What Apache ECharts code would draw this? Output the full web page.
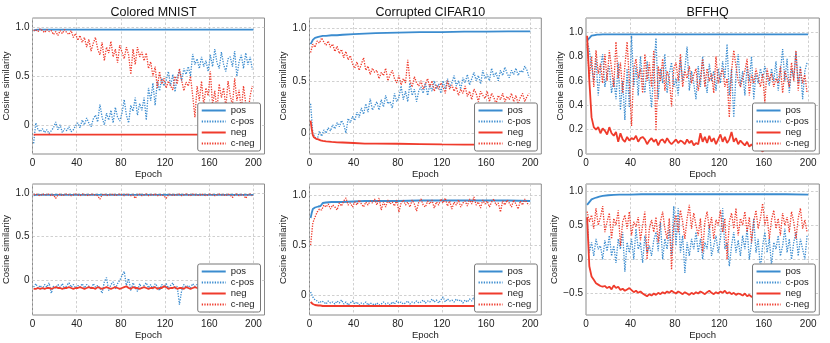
<!DOCTYPE html>
<html><head><meta charset="utf-8">
<script src="https://cdn.jsdelivr.net/npm/echarts@6/dist/echarts.min.js"></script>
<style>html,body{margin:0;padding:0;background:#fff}#c{width:830px;height:343px}</style>
</head><body><div id="c"></div><script>
// ---------- categories / x values ----------
const EPOCHS = []; for (let e = 1; e <= 199; e += 2) EPOCHS.push(e);   // noisy series: every 2nd epoch
const SMOOTH_EPOCHS = [1,2,3,4,5,6,8,10,12,15,20,25,30,40,50,60,80,100,120,140,160,180,200];
const X_TICKS = [0, 40, 80, 120, 160, 200];
const LEGEND_NAMES = ['pos', 'c-pos', 'neg', 'c-neg'];
const TITLES = ['Colored MNIST', 'Corrupted CIFAR10', 'BFFHQ'];

// ---------- Colored MNIST (top) ----------
const mnistTopPos = [0.97,0.975,0.978,0.98,0.98,0.98,0.98,0.98,0.98,0.98,0.98,0.98,0.98,0.98,0.98,0.98,0.98,0.98,0.98,0.98,0.98,0.98,0.98];
const mnistTopNeg = [-0.1,-0.1,-0.1,-0.1,-0.1,-0.1,-0.1,-0.1,-0.1,-0.1,-0.1,-0.1,-0.1,-0.1,-0.1,-0.1,-0.1,-0.1,-0.1,-0.1,-0.1,-0.1,-0.1];
const mnistTopCPos = [
 -0.19,0.02,-0.05,-0.07,-0.04,-0.08,-0.05,-0.09,-0.06,-0.03,
 0.03,-0.05,0.0,-0.08,-0.04,-0.06,-0.02,-0.07,-0.05,-0.01,
 0.02,-0.03,0.05,0.0,0.07,0.02,-0.02,0.06,0.1,0.03,
 0.21,0.08,0.0,0.12,0.05,0.15,0.02,0.18,0.08,0.04,
 0.12,0.26,0.1,0.02,0.2,0.14,0.28,0.1,0.22,0.15,
 0.28,0.05,0.38,0.25,0.43,0.2,0.45,0.35,0.48,0.4,
 0.46,0.55,0.4,0.52,0.34,0.5,0.56,0.45,0.58,0.52,
 0.6,0.5,0.73,0.62,0.68,0.58,0.7,0.6,0.66,0.55,
 0.72,0.6,0.78,0.64,0.58,0.75,0.62,0.55,0.68,0.7,
 0.6,0.76,0.5,0.65,0.72,0.58,0.74,0.62,0.7,0.57];
const mnistTopCNeg = [
 0.97,0.98,0.96,0.99,0.97,0.95,0.98,0.96,0.97,0.93,
 0.96,0.92,0.97,0.94,0.98,0.95,0.93,0.97,0.9,0.94,
 0.87,0.92,0.85,0.9,0.8,0.88,0.76,0.84,0.9,0.78,
 0.72,0.85,0.66,0.8,0.74,0.86,0.7,0.78,0.64,0.82,
 0.75,0.68,0.8,0.72,0.52,0.78,0.62,0.8,0.7,0.75,
 0.66,0.74,0.58,0.65,0.5,0.6,0.38,0.55,0.42,0.48,
 0.38,0.45,0.4,0.36,0.5,0.42,0.58,0.46,0.35,0.44,
 0.4,0.5,0.3,0.08,0.4,0.25,0.45,0.2,0.38,0.3,
 0.55,0.2,0.35,0.15,0.42,0.28,0.38,0.18,0.45,0.3,
 0.2,0.48,0.25,0.36,0.15,0.4,0.22,0.1,0.3,0.4];

// ---------- Corrupted CIFAR10 (top) ----------
const cifarTopPos = [0.85,0.87,0.89,0.9,0.91,0.915,0.92,0.925,0.93,0.93,0.935,0.935,0.94,0.945,0.95,0.955,0.96,0.965,0.965,0.97,0.97,0.972,0.972];
const cifarTopNeg = [0.12,0.04,-0.02,-0.04,-0.05,-0.055,-0.06,-0.07,-0.075,-0.08,-0.085,-0.088,-0.09,-0.095,-0.1,-0.1,-0.102,-0.105,-0.108,-0.11,-0.11,-0.11,-0.11];
const cifarTopCPos = [
 0.28,0.0,-0.04,-0.06,0.02,-0.03,0.03,0.0,0.05,0.02,
 0.08,0.04,0.1,0.06,0.12,0.08,0.0,0.14,0.1,0.16,
 0.12,0.2,0.15,0.24,0.18,0.28,0.2,0.33,0.22,0.26,
 0.3,0.22,0.32,0.25,0.36,0.28,0.3,0.24,0.38,0.3,
 0.34,0.45,0.32,0.4,0.3,0.48,0.36,0.42,0.3,0.4,
 0.44,0.38,0.48,0.36,0.46,0.4,0.5,0.42,0.47,0.38,
 0.5,0.42,0.52,0.44,0.48,0.55,0.45,0.5,0.42,0.53,
 0.48,0.56,0.46,0.52,0.58,0.5,0.55,0.47,0.6,0.52,
 0.56,0.5,0.62,0.54,0.58,0.5,0.6,0.55,0.63,0.57,
 0.53,0.6,0.56,0.62,0.55,0.6,0.58,0.64,0.6,0.53];
const cifarTopCNeg = [
 0.77,0.85,0.82,0.88,0.86,0.91,0.87,0.84,0.88,0.82,
 0.85,0.78,0.83,0.76,0.8,0.72,0.78,0.7,0.74,0.66,
 0.62,0.68,0.6,0.66,0.72,0.6,0.64,0.56,0.62,0.58,
 0.6,0.52,0.58,0.55,0.62,0.5,0.56,0.6,0.52,0.48,
 0.55,0.46,0.52,0.48,0.7,0.5,0.44,0.54,0.48,0.45,
 0.5,0.42,0.47,0.52,0.44,0.5,0.4,0.46,0.42,0.48,
 0.44,0.38,0.5,0.42,0.46,0.4,0.44,0.36,0.42,0.38,
 0.45,0.35,0.4,0.32,0.42,0.38,0.3,0.4,0.36,0.33,
 0.4,0.3,0.38,0.34,0.28,0.36,0.32,0.38,0.3,0.35,
 0.32,0.38,0.3,0.36,0.28,0.34,0.38,0.3,0.35,0.38];

// ---------- BFFHQ (top) ----------
const bffhqTopPos = [0.93,0.94,0.95,0.96,0.97,0.975,0.975,0.978,0.978,0.98,0.98,0.98,0.98,0.98,0.98,0.98,0.98,0.98,0.98,0.98,0.98,0.98,0.98];
const bffhqTopNeg = [
 0.97,0.6,0.3,0.22,0.2,0.22,0.17,0.21,0.19,0.16,
 0.22,0.17,0.15,0.18,0.1,0.17,0.12,0.1,0.14,0.11,
 0.13,0.12,0.15,0.1,0.13,0.14,0.12,0.08,0.11,0.13,
 0.1,0.12,0.07,0.11,0.12,0.09,0.13,0.1,0.08,0.1,
 0.12,0.09,0.11,0.1,0.08,0.12,0.09,0.11,0.07,0.09,
 0.08,0.17,0.1,0.14,0.09,0.15,0.1,0.13,0.08,0.12,
 0.16,0.1,0.14,0.09,0.12,0.18,0.1,0.13,0.08,0.11,
 0.09,0.07,0.1,0.06,0.08,0.05,0.03,0.06,0.04,0.02,
 0.05,0.04,0.06,0.03,0.05,0.04,0.06,0.05,0.03,0.05,
 0.04,0.06,0.05,0.04,0.03,0.05,0.06,0.04,0.05,0.04];
const bffhqTopCPos = [
 0.93,0.85,0.72,0.6,0.78,0.48,0.7,0.82,0.55,0.66,
 0.72,0.5,0.62,0.45,0.75,0.36,0.6,0.28,0.7,0.38,
 0.97,0.55,0.72,0.48,0.8,0.62,0.5,0.76,0.58,0.38,
 0.68,0.95,0.45,0.7,0.58,0.82,0.5,0.66,0.75,0.55,
 0.62,0.48,0.78,0.6,0.7,0.88,0.52,0.68,0.58,0.45,
 0.72,0.55,0.8,0.62,0.5,0.74,0.6,0.68,0.52,0.7,
 0.58,0.76,0.62,0.9,0.48,0.7,0.3,0.65,0.82,0.55,
 0.68,0.48,0.72,0.6,0.8,0.45,0.66,0.58,0.7,0.62,
 0.72,0.64,0.56,0.7,0.6,0.76,0.52,0.68,0.86,0.6,
 0.78,0.5,0.7,0.62,0.84,0.58,0.72,0.45,0.68,0.75];
const bffhqTopCNeg = [
 0.9,0.62,0.8,0.55,0.85,0.66,0.74,0.58,0.82,0.6,
 0.85,0.7,0.55,0.92,0.62,0.75,0.5,0.72,0.92,0.6,
 0.23,0.7,0.78,0.62,0.7,0.5,0.82,0.6,0.75,0.55,
 0.85,0.19,0.72,0.6,0.78,0.52,0.68,0.62,0.39,0.7,
 0.75,0.6,0.82,0.55,0.68,0.62,0.72,0.58,0.65,0.7,
 0.52,0.62,0.78,0.55,0.7,0.6,0.66,0.5,0.8,0.58,
 0.65,0.7,0.55,0.62,0.3,0.68,0.85,0.72,0.6,0.55,
 0.62,0.68,0.78,0.48,0.65,0.58,0.7,0.62,0.55,0.66,
 0.42,0.7,0.6,0.66,0.55,0.62,0.58,0.72,0.5,0.68,
 0.62,0.55,0.75,0.6,0.85,0.52,0.7,0.58,0.65,0.5];

// ---------- Colored MNIST (bottom) ----------
const mnistBotPos = [0.975,0.978,0.98,0.98,0.98,0.98,0.98,0.98,0.98,0.98,0.98,0.98,0.98,0.98,0.98,0.98,0.98,0.98,0.98,0.98,0.98,0.98,0.98];
const mnistBotNeg = [
 -0.1,-0.1,-0.09,-0.1,-0.09,-0.1,-0.09,-0.09,-0.1,-0.09,
 -0.08,-0.09,-0.09,-0.1,-0.09,-0.09,-0.08,-0.09,-0.1,-0.09,
 -0.09,-0.08,-0.09,-0.1,-0.09,-0.08,-0.09,-0.09,-0.1,-0.08,
 -0.09,-0.1,-0.09,-0.08,-0.09,-0.1,-0.09,-0.08,-0.09,-0.1,
 -0.09,-0.08,-0.07,-0.09,-0.1,-0.08,-0.09,-0.09,-0.1,-0.09,
 -0.08,-0.09,-0.1,-0.09,-0.09,-0.08,-0.1,-0.09,-0.09,-0.07,
 -0.08,-0.1,-0.09,-0.09,-0.08,-0.1,-0.09,-0.09,-0.1,-0.08,
 -0.09,-0.1,-0.09,-0.08,-0.09,-0.1,-0.09,-0.09,-0.08,-0.09,
 -0.09,-0.1,-0.09,-0.09,-0.08,-0.09,-0.1,-0.09,-0.09,-0.08,
 -0.09,-0.09,-0.1,-0.09,-0.08,-0.09,-0.09,-0.1,-0.09,-0.09];
const mnistBotCPos = [
 -0.08,-0.04,-0.09,-0.06,-0.1,-0.05,-0.08,-0.03,-0.15,-0.07,
 -0.09,-0.05,-0.08,-0.04,-0.1,-0.06,-0.03,-0.08,-0.05,-0.09,
 -0.06,-0.08,-0.04,-0.09,-0.05,-0.07,-0.1,-0.04,-0.08,-0.06,
 -0.09,-0.15,-0.02,0.03,-0.12,-0.05,-0.02,-0.1,-0.04,0.0,
 0.05,0.1,-0.06,0.02,-0.12,-0.03,-0.08,-0.13,-0.04,-0.1,
 -0.06,-0.03,-0.09,-0.05,-0.1,-0.04,-0.07,-0.12,-0.05,-0.08,
 -0.04,-0.09,-0.06,-0.03,-0.1,-0.07,-0.28,-0.12,-0.05,-0.08,
 -0.06,-0.09,-0.04,-0.07,-0.05,-0.1,-0.06,-0.08,-0.04,-0.07,
 -0.08,-0.05,-0.09,-0.06,-0.07,-0.04,-0.08,-0.06,-0.09,-0.05,
 -0.07,-0.06,-0.08,-0.05,-0.09,-0.06,-0.07,-0.08,-0.05,-0.07];
const mnistBotCNeg = [
 0.98,0.99,0.98,0.97,0.99,0.98,0.98,0.99,0.97,0.98,
 0.94,0.98,0.99,0.97,0.98,0.99,0.98,0.97,0.98,0.99,
 0.98,0.97,0.99,0.98,0.98,0.97,0.99,0.98,0.98,0.97,
 0.93,0.98,0.99,0.97,0.98,0.98,0.99,0.97,0.98,0.99,
 0.98,0.97,0.99,0.98,0.97,0.98,0.94,0.98,0.99,0.97,
 0.98,0.99,0.97,0.98,0.98,0.99,0.97,0.98,0.98,0.97,
 0.94,0.98,0.99,0.97,0.98,0.98,0.99,0.97,0.98,0.99,
 0.98,0.97,0.99,0.98,0.98,0.97,0.99,0.98,0.97,0.98,
 0.99,0.98,0.97,0.98,0.99,0.98,0.98,0.97,0.99,0.98,
 0.95,0.98,0.99,0.97,0.98,0.98,0.94,0.98,0.99,0.97];

// ---------- Corrupted CIFAR10 (bottom) ----------
const cifarBotPos = [0.77,0.82,0.86,0.87,0.875,0.88,0.885,0.89,0.92,0.925,0.93,0.93,0.93,0.935,0.94,0.94,0.94,0.945,0.945,0.945,0.945,0.945,0.94];
const cifarBotNeg = [-0.07,-0.08,-0.09,-0.095,-0.1,-0.1,-0.105,-0.105,-0.11,-0.11,-0.11,-0.11,-0.11,-0.11,-0.11,-0.11,-0.11,-0.11,-0.11,-0.11,-0.11,-0.11,-0.11];
const cifarBotCPos = [
 0.03,-0.02,-0.05,-0.06,-0.08,-0.06,-0.07,-0.09,-0.06,-0.08,
 -0.07,-0.09,-0.06,-0.08,-0.05,-0.09,-0.07,-0.1,-0.08,-0.06,
 -0.09,-0.07,-0.1,-0.08,-0.09,-0.07,-0.1,-0.08,-0.09,-0.1,
 -0.08,-0.1,-0.09,-0.07,-0.09,-0.08,-0.1,-0.07,-0.09,-0.06,
 -0.08,-0.07,-0.09,-0.08,-0.06,-0.09,-0.07,-0.08,-0.06,-0.08,
 -0.07,-0.05,-0.08,-0.06,-0.07,-0.04,-0.07,-0.05,-0.08,-0.05,
 -0.02,-0.07,-0.04,-0.06,-0.05,-0.07,-0.04,-0.06,-0.05,-0.08,
 -0.05,-0.07,-0.04,-0.06,-0.02,-0.07,-0.05,-0.06,-0.04,-0.07,
 -0.06,-0.05,-0.07,-0.04,-0.06,-0.05,-0.07,-0.06,-0.05,-0.07,
 -0.06,-0.04,-0.06,-0.05,-0.07,-0.06,-0.05,-0.06,-0.07,-0.05];
const cifarBotCNeg = [
 0.5,0.72,0.78,0.83,0.86,0.85,0.9,0.88,0.91,0.86,
 0.9,0.88,0.85,0.92,0.89,0.94,0.97,0.9,0.92,0.88,
 0.93,0.9,0.95,0.91,0.88,0.93,0.9,0.94,0.92,0.96,
 0.9,0.97,0.85,0.93,0.88,0.95,0.91,0.93,0.89,0.95,
 0.83,0.92,0.95,0.9,0.93,0.88,0.95,0.91,0.84,0.93,
 0.96,0.9,0.88,0.94,0.91,0.95,0.87,0.93,0.9,0.96,
 0.92,0.97,0.89,0.94,0.86,0.93,0.9,0.95,0.88,0.92,
 0.94,0.89,0.96,0.91,0.98,0.9,0.93,0.87,0.95,0.91,
 0.94,0.88,0.93,0.96,0.9,0.92,0.83,0.94,0.9,0.95,
 0.92,0.88,0.95,0.91,0.86,0.94,0.9,0.96,0.92,0.9];

// ---------- BFFHQ (bottom) ----------
const bffhqBotPos = [0.8,0.82,0.84,0.86,0.88,0.89,0.9,0.91,0.92,0.93,0.94,0.945,0.95,0.95,0.955,0.955,0.955,0.955,0.955,0.955,0.955,0.955,0.95];
const bffhqBotNeg = [
 0.62,-0.1,-0.25,-0.3,-0.35,-0.37,-0.39,-0.4,-0.39,-0.42,
 -0.4,-0.44,-0.38,-0.42,-0.4,-0.45,-0.43,-0.46,-0.44,-0.42,
 -0.45,-0.48,-0.46,-0.49,-0.47,-0.5,-0.52,-0.54,-0.51,-0.53,
 -0.5,-0.52,-0.49,-0.51,-0.48,-0.5,-0.47,-0.49,-0.46,-0.48,
 -0.5,-0.47,-0.49,-0.51,-0.48,-0.5,-0.52,-0.49,-0.51,-0.48,
 -0.5,-0.47,-0.49,-0.51,-0.48,-0.46,-0.49,-0.51,-0.48,-0.5,
 -0.47,-0.49,-0.46,-0.5,-0.48,-0.51,-0.49,-0.52,-0.5,-0.51,
 -0.53,-0.5,-0.54,-0.52,-0.55,-0.53,-0.56,-0.54,-0.56,-0.55,
 -0.55,-0.57,-0.54,-0.56,-0.55,-0.57,-0.55,-0.56,-0.54,-0.56,
 -0.55,-0.57,-0.55,-0.56,-0.54,-0.56,-0.55,-0.56,-0.55,-0.56];
const bffhqBotCPos = [
 0.6,0.1,0.25,0.05,0.3,0.15,0.2,0.0,0.28,0.12,
 0.35,0.05,0.2,-0.05,0.3,0.15,0.4,-0.18,0.25,0.1,
 0.3,0.0,0.45,0.15,0.25,-0.05,0.35,0.1,0.2,0.05,
 0.28,0.4,0.12,0.55,0.0,0.3,0.15,0.45,0.05,0.78,
 0.2,0.75,0.1,0.35,-0.2,0.25,0.05,0.3,0.15,0.4,
 0.1,0.3,0.0,0.25,0.15,0.5,0.05,0.2,0.35,0.1,
 0.3,0.75,0.15,0.25,-0.1,0.2,0.4,0.1,0.28,0.05,
 0.35,0.15,0.45,0.0,0.25,0.6,0.1,0.3,-0.15,0.2,
 0.4,0.1,0.3,-0.1,0.25,0.15,0.35,0.05,0.2,0.45,
 0.1,0.3,0.0,0.25,0.4,0.05,0.3,0.15,0.0,0.35];
const bffhqBotCNeg = [
 0.7,0.55,0.65,0.45,0.75,0.5,0.62,0.78,0.4,0.55,
 0.68,0.3,0.6,0.5,0.72,0.2,0.55,0.65,0.45,0.7,
 0.35,0.55,0.48,0.62,0.28,0.5,0.7,0.0,0.45,0.58,
 0.4,0.62,0.25,0.55,0.7,0.45,0.3,0.6,-0.15,0.5,
 0.65,0.4,0.72,0.55,0.3,0.6,0.8,0.45,0.68,0.5,
 0.35,0.6,0.1,0.55,0.7,0.45,0.62,0.3,0.58,0.5,
 0.72,0.4,0.6,0.0,0.55,0.68,0.45,0.75,0.35,0.6,
 0.5,0.7,0.4,0.62,0.25,0.55,0.72,0.45,0.6,0.82,
 0.5,0.65,0.3,0.58,0.72,0.45,0.6,0.35,0.68,0.5,
 0.62,0.4,0.7,0.55,0.3,0.6,0.75,0.45,0.58,0.4];

// ---------- y tick labels per panel ----------
const Y_TICKS_MNIST_TOP = [0, 0.5, 1.0];
const Y_TICKS_CIFAR_TOP = [0, 0.5, 1.0];
const Y_TICKS_BFFHQ_TOP = [0, 0.2, 0.4, 0.6, 0.8, 1.0];
const Y_TICKS_MNIST_BOT = [0, 0.5, 1.0];
const Y_TICKS_CIFAR_BOT = [0, 0.5, 1.0];
const Y_TICKS_BFFHQ_BOT = [-0.5, 0, 0.5, 1.0];

// ---------- layout (pixels) ----------
const BLUE = '#3b8ccf', RED = '#ef3b2c';
const FONT = 'Liberation Sans, Arial, Helvetica, sans-serif';
const panels = [
  {left:32.5, top:18,  w:232, h:136, yMin:-0.3, yMax:1.1,   yTicks:Y_TICKS_MNIST_TOP, title:TITLES[0], pos:mnistTopPos, cpos:mnistTopCPos, neg:mnistTopNeg, negNoisy:false, cneg:mnistTopCNeg},
  {left:309.5, top:18, w:231.8, h:136, yMin:-0.2, yMax:1.1, yTicks:Y_TICKS_CIFAR_TOP, title:TITLES[1], pos:cifarTopPos, cpos:cifarTopCPos, neg:cifarTopNeg, negNoisy:false, cneg:cifarTopCNeg},
  {left:586, top:18,   w:233.3, h:136, yMin:0, yMax:1.115,  yTicks:Y_TICKS_BFFHQ_TOP, title:TITLES[2], pos:bffhqTopPos, cpos:bffhqTopCPos, neg:bffhqTopNeg, negNoisy:true, cneg:bffhqTopCNeg},
  {left:32.5, top:184, w:232, h:131, yMin:-0.4, yMax:1.105,  yTicks:Y_TICKS_MNIST_BOT, title:null, pos:mnistBotPos, cpos:mnistBotCPos, neg:mnistBotNeg, negNoisy:true, cneg:mnistBotCNeg},
  {left:309.5, top:184, w:231.8, h:131, yMin:-0.2, yMax:1.11, yTicks:Y_TICKS_CIFAR_BOT, title:null, pos:cifarBotPos, cpos:cifarBotCPos, neg:cifarBotNeg, negNoisy:false, cneg:cifarBotCNeg},
  {left:586, top:184,  w:233.3, h:131, yMin:-0.815, yMax:1.105, yTicks:Y_TICKS_BFFHQ_BOT, title:null, pos:bffhqBotPos, cpos:bffhqBotCPos, neg:bffhqBotNeg, negNoisy:true, cneg:bffhqBotCNeg}
];

const W = 830, H = 343;
const grid = [], xAxis = [], yAxis = [], series = [], legend = [], title = [];
const fmtY = v => Math.abs(v) < 1e-9 ? '0' : (v < 0 ? '\u2212' : '') + Math.abs(v).toFixed(1);

function line(name, xs, ys, k, color, dotted) {
  return {
    name, type:'line', xAxisIndex:k, yAxisIndex:k,
    data: xs.map((x, i) => [x, ys[i]]),
    symbol:'none', showSymbol:false, silent:true, animation:false,
    emphasis:{disabled:true},
    lineStyle:{color, width: dotted ? 1.3 : 1.8, type: dotted ? [1.3, 1.3] : 'solid'},
    itemStyle:{color}
  };
}

panels.forEach((p, k) => {
  grid.push({left:p.left, top:p.top, width:p.w, height:p.h, show:true, borderColor:'#8a8a8a', borderWidth:1, backgroundColor:'transparent', containLabel:false});
  xAxis.push({
    type:'value', gridIndex:k, min:0, max:210,
    name:'Epoch', nameLocation:'middle', nameGap:12,
    nameTextStyle:{fontFamily:FONT, fontSize:9.5, color:'#222'},
    axisLine:{show:false},
    axisTick:{show:false, customValues:X_TICKS},
    axisLabel:{customValues:X_TICKS, margin:4, fontFamily:FONT, fontSize:10, color:'#222'},
    splitLine:{show:true, lineStyle:{color:'#c4c4c4', type:[2.5,2], width:0.8}}
  });
  yAxis.push({
    type:'value', gridIndex:k, min:p.yMin, max:p.yMax,
    name:'Cosine similarity', nameLocation:'middle', nameGap:17,
    nameTextStyle:{fontFamily:FONT, fontSize:9.5, color:'#222'},
    axisLine:{show:false},
    axisTick:{show:false, customValues:p.yTicks},
    axisLabel:{customValues:p.yTicks, margin:3, fontFamily:FONT, fontSize:10, color:'#222', formatter:fmtY},
    splitLine:{show:true, lineStyle:{color:'#c4c4c4', type:[2.5,2], width:0.8}}
  });
  series.push(line('pos',   SMOOTH_EPOCHS, p.pos, k, BLUE, false));
  series.push(line('c-pos', EPOCHS, p.cpos, k, BLUE, true));
  series.push(line('neg',   p.negNoisy ? EPOCHS : SMOOTH_EPOCHS, p.neg, k, RED, false));
  series.push(line('c-neg', EPOCHS, p.cneg, k, RED, true));
  legend.push({
    data: LEGEND_NAMES, orient:'vertical',
    right: W - (p.left + p.w) + 4, bottom: H - (p.top + p.h) + 3,
    itemWidth:24, itemHeight:11, itemGap:0, itemTextGap:5,
    itemStyle:{opacity:0},
    padding:[2,6,2,3], backgroundColor:'#fff', borderColor:'#777', borderWidth:1, borderRadius:2,
    textStyle:{fontFamily:FONT, fontSize:9.5, color:'#222', lineHeight:11},
    selectedMode:false
  });
  if (p.title) title.push({text:p.title, left:p.left + p.w / 2, top:1, textAlign:'center',
    textStyle:{fontFamily:FONT, fontSize:12.5, fontWeight:'normal', color:'#111'}});
});

const chart = echarts.init(document.getElementById('c'), null, {renderer:'canvas'});
chart.setOption({animation:false, backgroundColor:'#fff', title, grid, xAxis, yAxis, series, legend});
</script></body></html>
